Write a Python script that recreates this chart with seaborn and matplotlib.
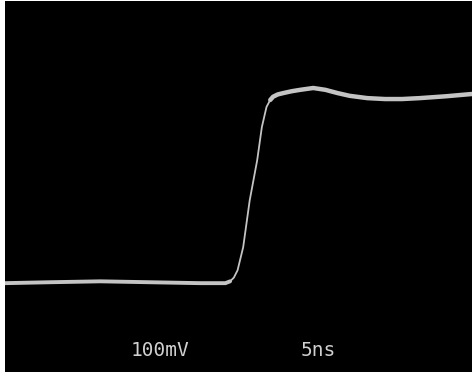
import pandas as pd
import seaborn as sns
import matplotlib
matplotlib.use("Agg")
import matplotlib.pyplot as plt

# =============================================================================
# 1. DATA (5 ns/div, 100 mV/div)
# =============================================================================
time_ns = [0.0, 4.8, 10.2, 15.5, 20.9, 23.6, 24.1, 24.5, 24.9, 25.5, 26.2,
           27.0, 27.5, 28.0, 28.4, 28.7, 29.2, 29.8, 30.7, 31.6, 33.0,
           34.3, 35.6, 36.9, 38.8, 40.7, 42.5, 44.4, 47.2, 50.0]
volt_mv = [0, 2, 4, 2, 0, 0, 4, 12, 28, 78, 180,
           267, 339, 383, 398, 405, 410, 413, 417, 420, 424,
           420, 413, 407, 402, 400, 400, 402, 406, 411]

label_vdiv = "100mV"
label_tdiv = "5ns"

df = pd.DataFrame({"t": time_ns, "v": volt_mv})

# the fast edge is written fainter/thinner on the screen than the flat parts
pre = df.iloc[:7]
post = df.iloc[14:]

# =============================================================================
# 2. PLOT
# =============================================================================
sns.set_style("dark")
plt.rcParams['font.family'] = ['DejaVu Sans Mono', 'DejaVu Sans']

fig = plt.figure(figsize=(4.72, 3.76), dpi=100, facecolor="white")
ax = fig.add_axes([5 / 472, 4 / 376, 467 / 472, 371 / 376])
ax.set_facecolor("black")

trace = "#c4c4c4"
sns.lineplot(data=df, x="t", y="v", ax=ax, sort=False,
             color=trace, linewidth=1.3, estimator=None)
sns.lineplot(data=pre, x="t", y="v", ax=ax, sort=False,
             color=trace, linewidth=2.8, estimator=None)
sns.lineplot(data=post, x="t", y="v", ax=ax, sort=False,
             color=trace, linewidth=3.2, estimator=None)

ax.set_xlim(0, 50)
ax.set_ylim(-193, 613)
ax.set_xticks([])
ax.set_yticks([])
ax.set_xlabel("")
ax.set_ylabel("")
ax.grid(False)
for s in ax.spines.values():
    s.set_visible(False)

# scale readouts at the bottom of the screen
ax.text(0.332, 0.059, label_vdiv, transform=ax.transAxes, ha="center",
        va="center", color="#d0d0d0", fontsize=14)
ax.text(0.670, 0.059, label_tdiv, transform=ax.transAxes, ha="center",
        va="center", color="#d0d0d0", fontsize=14)

fig.savefig("out.png", dpi=100, facecolor="white")
